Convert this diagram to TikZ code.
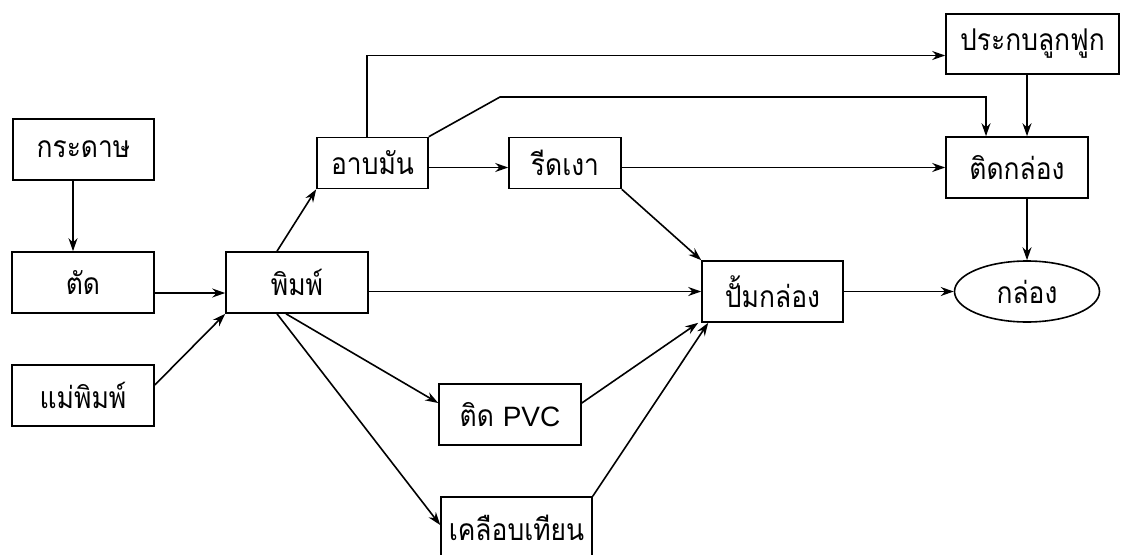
\documentclass[tikz,border=0pt]{standalone}
\usepackage{fontspec}
\newfontfamily\thaifont[Script=Thai,FakeStretch=0.88]{Loma}
\newfontfamily\latinfont{Liberation Sans}
\usetikzlibrary{arrows.meta,shapes.geometric}
\begin{document}
\begin{tikzpicture}[x=1pt,y=-1pt,
  box/.style={draw,line width=1.6pt,inner sep=0pt,font=\thaifont\fontsize{30}{34}\selectfont},
  oval/.style={ellipse,draw,line width=1.6pt,inner sep=0pt,font=\thaifont\fontsize{30}{34}\selectfont},
  arr/.style={line width=1.6pt,-{Stealth[length=13pt,width=9pt]}}]
\clip (0,0) rectangle (1121,554);
\useasboundingbox (0,0) rectangle (1121,554);
\node[box,minimum width=141pt,minimum height=61pt] (kradat) at (83.5,149.5) {กระดาษ};
\node[box,minimum width=142pt,minimum height=61pt] (tat) at (83,282.5) {ตัด};
\node[box,minimum width=142pt,minimum height=61pt] (maephim) at (83,395.5) {แม่พิมพ์};
\node[box,minimum width=142pt,minimum height=61pt] (phim) at (297,282.5) {พิมพ์};
\node[box,minimum width=111pt,minimum height=51pt] (abman) at (372.5,163) {อาบมัน};
\node[box,minimum width=112pt,minimum height=51pt] (ritngao) at (565,163) {รีดเงา};
\node[box,minimum width=142pt,minimum height=61pt] (tidpvc) at (510,414.5) {ติด {\latinfont\fontsize{28}{34}\selectfont PVC}};
\node[box,minimum width=151pt,minimum height=61pt] (khlueap) at (516.5,527.5) {เคลือบเทียน};
\node[box,minimum width=141pt,minimum height=61pt] (pam) at (772.5,291.5) {ปั้มกล่อง};
\node[box,minimum width=173pt,minimum height=60pt] (prakop) at (1032.5,44) {ประกบลูกฟูก};
\node[box,minimum width=142pt,minimum height=61pt] (tidklong) at (1017,167.5) {ติดกล่อง};
\node[oval,minimum width=145pt,minimum height=61pt] (klong) at (1027,291.5) {กล่อง};
\coordinate (bend) at (500,97);

\draw[arr] ([xshift=-10.5pt]kradat.south) -- ([xshift=-10pt]tat.north);
\draw[arr] ([yshift=-10.5pt]tat.east) -- ([yshift=-10.5pt]phim.west);
\draw[arr] ([yshift=10.5pt]maephim.east) -- (phim.south west);
\draw[arr] ([xshift=-20pt]phim.north) -- (abman.south west);
\draw[arr] ([xshift=-5.5pt]abman.north) |- ([yshift=-11.5pt]prakop.west);
\draw[arr] (abman.north east) -- (bend) -| ([xshift=-31pt]tidklong.north);
\draw[arr] ([yshift=-4.5pt]abman.east) -- ([yshift=-4.5pt]ritngao.west);
\draw[arr] ([yshift=-4.5pt]ritngao.east) -- (tidklong.west);
\draw[arr] (ritngao.south east) -- (pam.north west);
\draw[arr] (phim.east |- pam.west) -- (pam.west);
\draw[arr] ([xshift=-11pt]phim.south) -- ([yshift=11.5pt]tidpvc.west);
\draw[arr] ([xshift=-20pt]phim.south) -- ([yshift=2.5pt]khlueap.west);
\draw[arr] ([yshift=11.5pt]tidpvc.east) -- ([xshift=-3pt]pam.south west);
\draw[arr] (khlueap.north east) -- ([xshift=7pt]pam.south west);
\draw[arr] ([xshift=-5.5pt]prakop.south) -- ([xshift=10pt]tidklong.north);
\draw[arr] ([xshift=10pt]tidklong.south) -- (klong.north);
\draw[arr] (pam.east) -- (klong.west);
\end{tikzpicture}
\end{document}
